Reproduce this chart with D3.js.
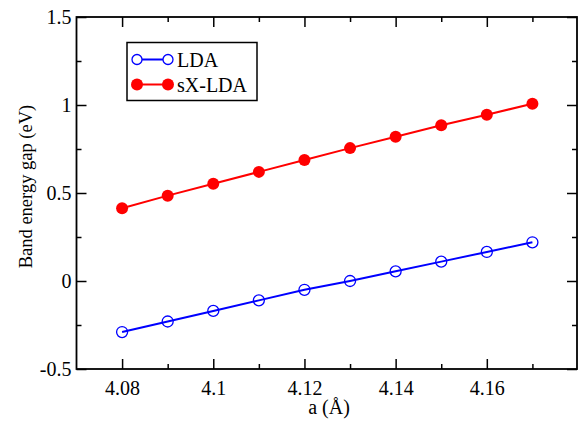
<!DOCTYPE html>
<html><head><meta charset="utf-8">
<script src="https://cdn.jsdelivr.net/npm/d3@7"></script>
<style>body{margin:0;background:#fff}svg{display:block}</style>
</head><body><svg id="c" width="578" height="429"></svg>
<script>
const aValues = [4.08,4.09,4.10,4.11,4.12,4.13,4.14,4.15,4.16,4.17];
const ldaValues = [-0.29,-0.23,-0.17,-0.11,-0.05,0.0,0.055,0.11,0.165,0.22];
const sxValues = [0.413,0.485,0.553,0.62,0.688,0.755,0.82,0.885,0.945,1.007];
const xTickValues = [4.08,4.10,4.12,4.14,4.16];
const xTickLabels = ["4.08","4.1","4.12","4.14","4.16"];
const xMinorValues = [4.09,4.11,4.13,4.15,4.17];
const yTickValues = [-0.5,0,0.5,1,1.5];
const yTickLabels = ["-0.5","0","0.5","1","1.5"];
const yMinorValues = [-0.25,0.25,0.75,1.25];
const seriesNames = ["LDA","sX-LDA"];

const FONT = "'Liberation Serif', 'Times New Roman', Times, serif";
const svg = d3.select("#c");
const L=76.5,R=578,T=17,B=369;
const x = d3.scaleLinear().domain([4.07,4.18]).range([L,R]);
const y = d3.scaleLinear().domain([-0.5,1.5]).range([B,T]);

const gB = svg.append("g").attr("transform",`translate(0,${B})`);
gB.call(d3.axisBottom(x).tickValues(xTickValues).tickSize(-10).tickPadding(12).tickFormat((d,i)=>xTickLabels[i]));
gB.append("g").call(d3.axisBottom(x).tickValues(xMinorValues).tickSize(-5).tickFormat(""));
const gT = svg.append("g").attr("transform",`translate(0,${T})`);
gT.call(d3.axisTop(x).tickValues(xTickValues).tickSize(-10).tickFormat(""));
gT.append("g").call(d3.axisTop(x).tickValues(xMinorValues).tickSize(-5).tickFormat(""));
const gL = svg.append("g").attr("transform",`translate(${L},0)`);
gL.call(d3.axisLeft(y).tickValues(yTickValues).tickSize(-10).tickPadding(5).tickFormat((d,i)=>yTickLabels[i]));
gL.append("g").call(d3.axisLeft(y).tickValues(yMinorValues).tickSize(-5).tickFormat(""));
const gR = svg.append("g").attr("transform",`translate(${R-1},0)`);
gR.call(d3.axisRight(y).tickValues(yTickValues).tickSize(-10).tickFormat(""));
gR.append("g").call(d3.axisRight(y).tickValues(yMinorValues).tickSize(-5).tickFormat(""));
svg.selectAll(".domain").remove();
svg.selectAll("g").attr("font-family",null);
svg.selectAll(".tick line").attr("stroke","#000").attr("stroke-width",1.5);
svg.selectAll(".tick text").attr("fill","#000").style("font-size","20px").style("font-family",FONT);
gB.selectAll(".tick text").attr("dy","0.72em");
svg.append("rect").attr("x",L).attr("y",T).attr("width",R-1-L).attr("height",B-T)
  .attr("fill","none").attr("stroke","#000").attr("stroke-width",1.8);

svg.append("text").attr("x",329).attr("y",414).attr("text-anchor","middle").style("font-size","20px").style("font-family",FONT).text("a (Å)");
svg.append("text").attr("transform",`translate(32,186.5) rotate(-90)`).attr("text-anchor","middle").style("font-size","18.5px").style("font-family",FONT).text("Band energy gap (eV)");

const line = d3.line().x((d,i)=>x(aValues[i])).y(d=>y(d));
svg.append("path").datum(ldaValues).attr("d",line).attr("fill","none").attr("stroke","#0000ff").attr("stroke-width",2);
svg.append("path").datum(sxValues).attr("d",line).attr("fill","none").attr("stroke","#ff0000").attr("stroke-width",2);
svg.selectAll(".lda").data(ldaValues).enter().append("circle").attr("cx",(d,i)=>x(aValues[i])).attr("cy",d=>y(d))
  .attr("r",5.5).attr("fill","none").attr("stroke","#0000ff").attr("stroke-width",1.3);
svg.selectAll(".sx").data(sxValues).enter().append("circle").attr("cx",(d,i)=>x(aValues[i])).attr("cy",d=>y(d))
  .attr("r",6).attr("fill","#ff0000");

const lg = svg.append("g");
lg.append("rect").attr("x",127).attr("y",42.5).attr("width",130).attr("height",58).attr("fill","#fff").attr("stroke","#000").attr("stroke-width",1.5);
const rows=[{n:seriesNames[0],c:"#0000ff",open:true,y:59.5},{n:seriesNames[1],c:"#ff0000",open:false,y:84.5}];
rows.forEach(r=>{
  lg.append("line").attr("x1",137).attr("x2",168).attr("y1",r.y).attr("y2",r.y).attr("stroke",r.c).attr("stroke-width",2);
  [137,168].forEach(cx=>{
    lg.append("circle").attr("cx",cx).attr("cy",r.y).attr("r",r.open?5:6)
      .attr("fill",r.open?"#fff":r.c).attr("stroke",r.open?r.c:"none").attr("stroke-width",1.3);
  });
  lg.append("text").attr("x",177).attr("y",r.y+7).style("font-size","20px").style("font-family",FONT).text(r.n);
});
</script></body></html>
